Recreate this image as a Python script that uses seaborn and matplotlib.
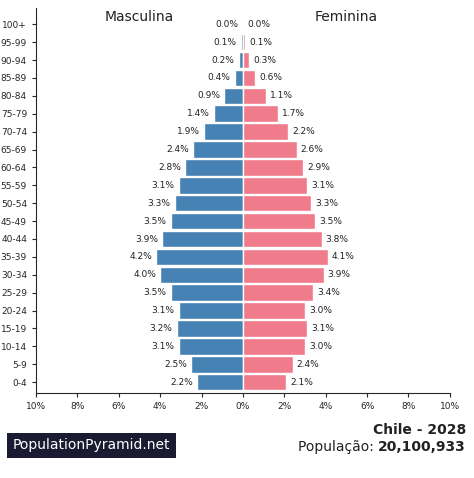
import numpy as np
import pandas as pd
import matplotlib
matplotlib.use("Agg")
import matplotlib.pyplot as plt
import seaborn as sns

ages = ["0-4", "5-9", "10-14", "15-19", "20-24", "25-29", "30-34", "35-39", "40-44",
        "45-49", "50-54", "55-59", "60-64", "65-69", "70-74", "75-79", "80-84",
        "85-89", "90-94", "95-99", "100+"]
male = [2.2, 2.5, 3.1, 3.2, 3.1, 3.5, 4.0, 4.2, 3.9, 3.5, 3.3, 3.1, 2.8, 2.4, 1.9,
        1.4, 0.9, 0.4, 0.2, 0.1, 0.0]
female = [2.1, 2.4, 3.0, 3.1, 3.0, 3.4, 3.9, 4.1, 3.8, 3.5, 3.3, 3.1, 2.9, 2.6, 2.2,
          1.7, 1.1, 0.6, 0.3, 0.1, 0.0]

df = pd.DataFrame({"age": ages, "male": [-v for v in male], "female": female})
order = ages[::-1]

sns.set_style("white")
plt.rcParams['font.family'] = ['DejaVu Sans']
fig = plt.figure(figsize=(4.74, 4.78), dpi=100)
ax = fig.add_axes([0.076, 0.178, 0.873, 0.805])

sns.barplot(data=df, y="age", x="male", order=order, color="#4682b4", width=0.92,
            saturation=1, ax=ax, orient="h")
sns.barplot(data=df, y="age", x="female", order=order, color="#f07b8b", width=0.92,
            saturation=1, ax=ax, orient="h")

for i, a in enumerate(order):
    idx = ages.index(a)
    ax.text(-male[idx] - 0.2, i, f"{male[idx]:.1f}%", ha="right", va="center", fontsize=6.5, color="#222")
    ax.text(female[idx] + 0.2, i, f"{female[idx]:.1f}%", ha="left", va="center", fontsize=6.5, color="#222")

ax.set_xlim(-10, 10)
ax.set_ylim(20.6, -0.9)
ticks = np.arange(-10, 11, 2)
ax.set_xticks(ticks)
ax.set_xticklabels([f"{abs(t)}%" for t in ticks], fontsize=6.5)
ax.tick_params(axis="y", labelsize=6.5, length=3, left=True)
ax.tick_params(axis="x", length=3, bottom=True)
ax.set_xlabel("")
ax.set_ylabel("")
sns.despine(ax=ax)

ax.text(-5, -0.4, "Masculina", ha="center", va="center", fontsize=10, color="#222")
ax.text(5, -0.4, "Feminina", ha="center", va="center", fontsize=10, color="#222")

fig.text(0.027, 0.068, "PopulationPyramid.net", fontsize=10, color="white",
         va="center", ha="left", bbox=dict(facecolor="#1a1a33", edgecolor="none", pad=4))
fig.text(0.983, 0.1, "Chile - 2028", fontsize=10, fontweight="bold", ha="right", va="center", color="#222")
fig.text(0.983, 0.065, "População: ", fontsize=10, ha="right", va="center", color="#222")
t = fig.text(0.983, 0.065, "20,100,933", fontsize=10, fontweight="bold", ha="right", va="center", color="#222")
fig.canvas.draw()
bb = t.get_window_extent()
fig.texts[-2].set_position((bb.x0 / fig.bbox.width, 0.065))

fig.savefig("out.png", dpi=100)
